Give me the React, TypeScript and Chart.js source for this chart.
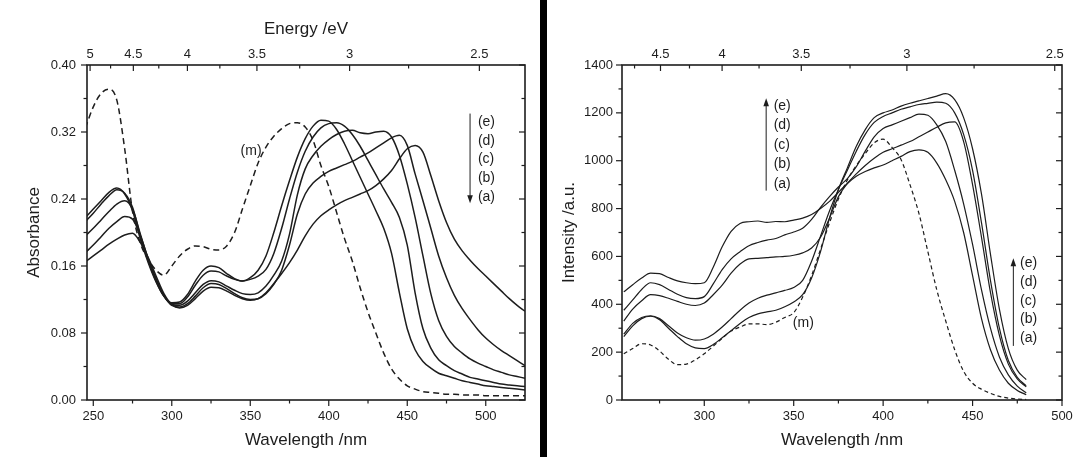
import React, { useEffect, useRef } from "react";
import { Chart, registerables } from "chart.js";

Chart.register(...registerables);

const HC_EV_NM = 1239.84;
const INK = "#1d1d1d";
const FONT_FAMILY = "'Liberation Sans', Arial, Helvetica, sans-serif";

// ---------------- Left panel: absorbance ----------------
const absWavelength = [
  245, 250, 255, 260, 265, 270, 275, 280, 285, 290, 295, 300, 305, 310, 315, 320, 325, 330, 335,
  340, 345, 350, 355, 360, 365, 370, 375, 380, 385, 390, 395, 400, 405, 410, 415, 420, 425, 430,
  435, 440, 445, 450, 455, 460, 465, 470, 475, 480, 485, 490, 495, 500, 505, 510, 515, 520, 525,
];
const absCurve1 = [
  0.218, 0.228, 0.238, 0.248, 0.253, 0.246, 0.226, 0.192, 0.164, 0.141, 0.124, 0.116, 0.117, 0.126,
  0.142, 0.155, 0.16, 0.158, 0.151, 0.145, 0.142, 0.146, 0.155, 0.172, 0.2, 0.232, 0.262, 0.29,
  0.312, 0.327, 0.334, 0.333, 0.323, 0.306, 0.286, 0.266, 0.246, 0.226, 0.205, 0.175, 0.128, 0.085,
  0.06, 0.046, 0.038, 0.032, 0.029, 0.026, 0.023, 0.021, 0.019, 0.017, 0.016, 0.015, 0.014, 0.013,
  0.012,
];
const absCurve2 = [
  0.213, 0.223, 0.234, 0.244, 0.251, 0.247, 0.23, 0.196, 0.166, 0.142, 0.124, 0.115, 0.115, 0.123,
  0.137, 0.149, 0.154, 0.153, 0.148, 0.144, 0.142, 0.144, 0.148, 0.156, 0.175, 0.205, 0.24, 0.272,
  0.297, 0.314, 0.325, 0.33, 0.331, 0.327, 0.317, 0.303, 0.286, 0.269, 0.252, 0.236, 0.218, 0.185,
  0.128, 0.085, 0.062, 0.048, 0.041, 0.035, 0.031, 0.027, 0.025, 0.023, 0.021, 0.019, 0.018, 0.017,
  0.016,
];
const absCurve3 = [
  0.196, 0.205, 0.215, 0.225, 0.234, 0.238, 0.228, 0.198, 0.168, 0.143, 0.124, 0.114, 0.113, 0.118,
  0.128, 0.138, 0.1425, 0.141, 0.136, 0.131, 0.127, 0.126, 0.128, 0.136, 0.149, 0.166, 0.198, 0.245,
  0.276, 0.292, 0.303, 0.311, 0.317, 0.321, 0.322, 0.319, 0.318, 0.32, 0.321, 0.314, 0.292, 0.258,
  0.218, 0.172, 0.127, 0.095, 0.076, 0.064, 0.056, 0.049, 0.044, 0.04, 0.036, 0.033, 0.03, 0.028,
  0.026,
];
const absCurve4 = [
  0.176, 0.185, 0.195, 0.205, 0.213, 0.219, 0.216, 0.196, 0.169, 0.145, 0.125, 0.113, 0.111, 0.115,
  0.124, 0.134, 0.139, 0.138, 0.133, 0.127, 0.122, 0.12, 0.121, 0.127, 0.138, 0.155, 0.185, 0.222,
  0.246, 0.259, 0.267, 0.273, 0.277, 0.281, 0.285, 0.29, 0.295, 0.301, 0.307, 0.313, 0.316, 0.304,
  0.27, 0.238, 0.205, 0.172, 0.146, 0.125, 0.109, 0.096, 0.084, 0.074, 0.066, 0.059, 0.053, 0.047,
  0.041,
];
const absCurve5 = [
  0.165, 0.172, 0.179, 0.186, 0.192, 0.197, 0.199, 0.188, 0.17, 0.148, 0.127, 0.114, 0.11, 0.113,
  0.121, 0.13, 0.1345, 0.134, 0.13, 0.125, 0.121, 0.119, 0.121, 0.128, 0.139, 0.151, 0.164, 0.179,
  0.196, 0.21, 0.22, 0.227, 0.233, 0.238, 0.242, 0.246, 0.25, 0.256, 0.264, 0.274, 0.288, 0.3,
  0.304, 0.296, 0.268, 0.238, 0.212, 0.192, 0.178, 0.167, 0.157, 0.148, 0.139, 0.13, 0.121, 0.113,
  0.106,
];
const absMonomer = [
  0.325, 0.35, 0.366, 0.371, 0.358, 0.3, 0.225, 0.187, 0.168, 0.155, 0.149, 0.16, 0.172, 0.18,
  0.184, 0.183, 0.18, 0.179, 0.184, 0.2, 0.228, 0.256, 0.283, 0.302, 0.315, 0.324, 0.33, 0.331,
  0.326, 0.31, 0.28, 0.255, 0.224, 0.193, 0.166, 0.134, 0.105, 0.08, 0.056, 0.037, 0.025, 0.017,
  0.013, 0.01, 0.009, 0.008, 0.007, 0.007, 0.006, 0.006, 0.006, 0.005, 0.005, 0.005, 0.005, 0.005,
  0.005,
];
const absWlTicks = [250, 300, 350, 400, 450, 500];
const absWlMinor = [275, 325, 375, 425, 475];
const absYTicks = [0, 0.08, 0.16, 0.24, 0.32, 0.4];
const absYMinor = [0.04, 0.12, 0.2, 0.28, 0.36];
const absEnergyTicks = [5, 4.5, 4, 3.5, 3, 2.5];
const absEnergyMinor = [4.75, 4.25, 3.75, 3.25, 2.75];

// ---------------- Right panel: emission intensity ----------------
const plWavelength = [
  255, 260, 265, 270, 275, 280, 285, 290, 295, 300, 305, 310, 315, 320, 325, 330, 335, 340, 345,
  350, 355, 360, 365, 370, 375, 380, 385, 390, 395, 400, 405, 410, 415, 420, 425, 430, 435, 440,
  445, 450, 455, 460, 465, 470, 475, 480,
];
const plCurveE = [
  452, 482, 510, 530, 528, 512, 498, 490, 486, 490, 555, 640, 705, 738, 745, 748, 742, 746, 745,
  752, 760, 775, 800, 830, 868, 905, 935, 955, 970, 982, 1000, 1018, 1038, 1045, 1035, 990, 920,
  830, 700, 520, 340, 210, 125, 70, 40, 22,
];
const plCurveD = [
  375, 418, 462, 490, 482, 462, 442, 428, 424, 432, 485, 545, 590, 620, 645, 658, 668, 675, 690,
  702, 718, 755, 805, 850, 890, 925, 975, 1040, 1100, 1135, 1150, 1165, 1180, 1195, 1190, 1150,
  1080, 960, 820, 650, 460, 300, 180, 105, 58, 30,
];
const plCurveC = [
  330, 380, 415, 440, 436, 425, 412, 400, 395, 405, 440, 480, 530, 568, 590, 592, 595, 598, 600,
  605, 615, 635, 680, 760, 850, 905, 945, 980, 1010, 1035, 1050, 1065, 1080, 1100, 1120, 1140,
  1158, 1162, 1080, 900, 680, 450, 270, 150, 88, 55,
];
const plCurveB = [
  275, 320, 345, 352, 340, 310, 280, 260, 250, 255, 275, 305, 340, 375, 405, 425, 438, 448, 458,
  470, 500, 580, 685, 790, 880, 960, 1040, 1110, 1160, 1185, 1200, 1215, 1225, 1235, 1240, 1245,
  1240, 1200, 1110, 960, 740, 500, 300, 165, 95, 60,
];
const plCurveA = [
  265, 310, 340, 350, 335, 300, 265, 235, 218, 215, 232, 260, 290, 320, 345, 360, 368, 375, 390,
  410, 440, 510, 620, 760, 880, 970, 1060, 1130, 1180, 1200, 1212, 1228, 1240, 1250, 1260, 1270,
  1280, 1255, 1180, 1050, 860, 610, 380, 215, 125, 85,
];
const plMonomer = [
  193, 215, 235, 230, 205, 170, 148, 150, 168, 193, 225, 258, 288, 305, 318, 318, 315, 325, 345,
  365, 430, 520, 630, 740, 840, 920, 980, 1030, 1075, 1090, 1055, 1005, 900, 780, 620, 460, 330,
  210, 120, 70, 45, 28, 15, 8, 4, 2,
];
const plWlTicks = [300, 350, 400, 450, 500];
const plWlMinor = [275, 325, 375, 425, 475];
const plYTicks = [0, 200, 400, 600, 800, 1000, 1200, 1400];
const plYMinor = [100, 300, 500, 700, 900, 1100, 1300];
const plEnergyTicks = [4.5, 4, 3.5, 3, 2.5];
const plEnergyMinor = [4.75, 4.25, 3.75, 3.25, 2.75];

const seriesLabels = ["(e)", "(d)", "(c)", "(b)", "(a)"];

type Note = { text: string; x: number; y: number; align: CanvasTextAlign };
type Arrow = { x: number; from: number; to: number };

type PanelSpec = {
  width: number;
  wavelengths: number[];
  solid: number[][];
  dashed: number[];
  xMin: number;
  xMax: number;
  yMin: number;
  yMax: number;
  wlTicks: number[];
  wlMinor: number[];
  yTicks: number[];
  yMinor: number[];
  energyTicks: number[];
  energyMinor: number[];
  yFormat: (v: number) => string;
  yTitle: string;
  topTitle: string | null;
  solidWidth: number;
  dashedWidth: number;
  dash: number[];
  notes: Note[];
  arrows: Arrow[];
  yAxisWidth: number;
  rightPad: number;
  yLabelPad: number;
  yTitlePad: number;
};

const toWl = (e: number) => HC_EV_NM / e;

function makeDecor(spec: PanelSpec) {
  return {
    id: "panelDecor",
    afterDraw(chart: any) {
      const { ctx, chartArea: a, scales } = chart;
      const sx = scales.x;
      const sy = scales.y;
      ctx.save();
      ctx.strokeStyle = INK;
      ctx.fillStyle = INK;
      const seg = (x0: number, y0: number, x1: number, y1: number) => {
        ctx.beginPath();
        ctx.moveTo(x0, y0);
        ctx.lineTo(x1, y1);
        ctx.stroke();
      };
      ctx.lineWidth = 1.2;
      const major = 6;
      const minor = 3.5;
      spec.wlTicks.forEach((v) => {
        const p = sx.getPixelForValue(v);
        seg(p, a.bottom, p, a.bottom + major);
      });
      spec.wlMinor.forEach((v) => {
        const p = sx.getPixelForValue(v);
        seg(p, a.bottom, p, a.bottom + minor);
      });
      spec.energyTicks.forEach((e) => {
        const p = sx.getPixelForValue(toWl(e));
        seg(p, a.top, p, a.top + major);
      });
      spec.energyMinor.forEach((e) => {
        const p = sx.getPixelForValue(toWl(e));
        seg(p, a.top, p, a.top + minor);
      });
      spec.yTicks.forEach((v) => {
        const p = sy.getPixelForValue(v);
        seg(a.left - major, p, a.left, p);
        seg(a.right - major, p, a.right, p);
      });
      spec.yMinor.forEach((v) => {
        const p = sy.getPixelForValue(v);
        seg(a.left - minor, p, a.left, p);
        seg(a.right - minor, p, a.right, p);
      });
      ctx.lineWidth = 1.6;
      ctx.strokeRect(a.left, a.top, a.right - a.left, a.bottom - a.top);

      ctx.font = `14px ${FONT_FAMILY}`;
      ctx.textBaseline = "middle";
      spec.notes.forEach((n) => {
        ctx.textAlign = n.align;
        ctx.fillText(n.text, sx.getPixelForValue(n.x), sy.getPixelForValue(n.y));
      });
      ctx.lineWidth = 1;
      spec.arrows.forEach((ar) => {
        const x = sx.getPixelForValue(ar.x);
        const y0 = sy.getPixelForValue(ar.from);
        const y1 = sy.getPixelForValue(ar.to);
        const dir = y1 > y0 ? 1 : -1;
        seg(x, y0, x, y1 - dir * 5);
        ctx.beginPath();
        ctx.moveTo(x, y1);
        ctx.lineTo(x - 2.8, y1 - dir * 8);
        ctx.lineTo(x + 2.8, y1 - dir * 8);
        ctx.closePath();
        ctx.fill();
      });
      ctx.restore();
    },
  };
}

function buildConfig(spec: PanelSpec): any {
  const tickFont = { family: FONT_FAMILY, size: 13 };
  const titleFont = { family: FONT_FAMILY, size: 17 };
  const datasets: any[] = spec.solid.map((ys) => ({
    data: spec.wavelengths.map((x, i) => ({ x, y: ys[i] })),
    borderColor: INK,
    borderWidth: spec.solidWidth,
    pointRadius: 0,
    fill: false,
    cubicInterpolationMode: "monotone",
  }));
  datasets.push({
    data: spec.wavelengths.map((x, i) => ({ x, y: spec.dashed[i] })),
    borderColor: INK,
    borderWidth: spec.dashedWidth,
    borderDash: spec.dash,
    pointRadius: 0,
    fill: false,
    cubicInterpolationMode: "monotone",
  });
  return {
    type: "line",
    data: { datasets },
    plugins: [makeDecor(spec)],
    options: {
      animation: false,
      responsive: false,
      maintainAspectRatio: false,
      events: [],
      layout: { padding: { left: 0, right: spec.rightPad, top: 0, bottom: 0 } },
      plugins: { legend: { display: false }, tooltip: { enabled: false } },
      scales: {
        x: {
          type: "linear",
          position: "bottom",
          min: spec.xMin,
          max: spec.xMax,
          grid: { display: false, drawTicks: false },
          border: { display: false },
          ticks: {
            color: INK,
            font: tickFont,
            padding: 9,
            autoSkip: false,
            maxRotation: 0,
            callback: (v: number) => String(v),
          },
          afterBuildTicks: (s: any) => {
            s.ticks = spec.wlTicks.map((value) => ({ value }));
          },
          afterFit: (s: any) => {
            s.height = 57;
          },
          title: {
            display: true,
            text: "Wavelength /nm",
            color: INK,
            font: titleFont,
            padding: { top: 0, bottom: 6 },
          },
        },
        x2: {
          type: "linear",
          position: "top",
          axis: "x",
          min: spec.xMin,
          max: spec.xMax,
          grid: { display: false, drawTicks: false },
          border: { display: false },
          ticks: {
            color: INK,
            font: tickFont,
            padding: 3,
            autoSkip: false,
            maxRotation: 0,
            callback: (_v: number, i: number) => String(spec.energyTicks[i]),
          },
          afterBuildTicks: (s: any) => {
            s.ticks = spec.energyTicks.map((e) => ({ value: toWl(e) }));
          },
          afterFit: (s: any) => {
            s.height = 65;
          },
          title: {
            display: spec.topTitle !== null,
            text: spec.topTitle || "",
            color: INK,
            font: titleFont,
            padding: { top: 19, bottom: 0 },
          },
        },
        y: {
          type: "linear",
          position: "left",
          min: spec.yMin,
          max: spec.yMax,
          grid: { display: false, drawTicks: false },
          border: { display: false },
          ticks: {
            color: INK,
            font: tickFont,
            padding: spec.yLabelPad,
            autoSkip: false,
            callback: (v: number) => spec.yFormat(v),
          },
          afterBuildTicks: (s: any) => {
            s.ticks = spec.yTicks.map((value) => ({ value }));
          },
          afterFit: (s: any) => {
            s.width = spec.yAxisWidth;
          },
          title: {
            display: true,
            text: spec.yTitle,
            color: INK,
            font: titleFont,
            padding: { top: spec.yTitlePad, bottom: 0 },
          },
        },
      },
    },
  };
}

const leftSpec: PanelSpec = {
  width: 540,
  wavelengths: absWavelength,
  solid: [absCurve1, absCurve2, absCurve3, absCurve4, absCurve5],
  dashed: absMonomer,
  xMin: 246,
  xMax: 525,
  yMin: 0,
  yMax: 0.4,
  wlTicks: absWlTicks,
  wlMinor: absWlMinor,
  yTicks: absYTicks,
  yMinor: absYMinor,
  energyTicks: absEnergyTicks,
  energyMinor: absEnergyMinor,
  yFormat: (v) => v.toFixed(2),
  yTitle: "Absorbance",
  topTitle: "Energy /eV",
  solidWidth: 1.5,
  dashedWidth: 1.5,
  dash: [6, 4],
  notes: [
    { text: seriesLabels[0], x: 495, y: 0.332, align: "left" },
    { text: seriesLabels[1], x: 495, y: 0.3095, align: "left" },
    { text: seriesLabels[2], x: 495, y: 0.287, align: "left" },
    { text: seriesLabels[3], x: 495, y: 0.2645, align: "left" },
    { text: seriesLabels[4], x: 495, y: 0.242, align: "left" },
    { text: "(m)", x: 350.5, y: 0.297, align: "center" },
  ],
  arrows: [{ x: 490, from: 0.342, to: 0.235 }],
  yAxisWidth: 87,
  rightPad: 15,
  yLabelPad: 11,
  yTitlePad: 24,
};

const rightSpec: PanelSpec = {
  width: 535,
  wavelengths: plWavelength,
  solid: [plCurveE, plCurveD, plCurveC, plCurveB, plCurveA],
  dashed: plMonomer,
  xMin: 254,
  xMax: 500,
  yMin: 0,
  yMax: 1400,
  wlTicks: plWlTicks,
  wlMinor: plWlMinor,
  yTicks: plYTicks,
  yMinor: plYMinor,
  energyTicks: plEnergyTicks,
  energyMinor: plEnergyMinor,
  yFormat: (v) => String(v),
  yTitle: "Intensity /a.u.",
  topTitle: null,
  solidWidth: 1.2,
  dashedWidth: 1.2,
  dash: [4, 3],
  notes: [
    { text: seriesLabels[0], x: 338.8, y: 1226, align: "left" },
    { text: seriesLabels[1], x: 338.8, y: 1149, align: "left" },
    { text: seriesLabels[2], x: 338.8, y: 1066, align: "left" },
    { text: seriesLabels[3], x: 338.8, y: 986, align: "left" },
    { text: seriesLabels[4], x: 338.8, y: 903, align: "left" },
    { text: seriesLabels[0], x: 476.5, y: 574, align: "left" },
    { text: seriesLabels[1], x: 476.5, y: 494, align: "left" },
    { text: seriesLabels[2], x: 476.5, y: 414, align: "left" },
    { text: seriesLabels[3], x: 476.5, y: 337, align: "left" },
    { text: seriesLabels[4], x: 476.5, y: 258, align: "left" },
    { text: "(m)", x: 355.4, y: 320, align: "center" },
  ],
  arrows: [
    { x: 334.6, from: 875, to: 1261 },
    { x: 472.8, from: 226, to: 592 },
  ],
  yAxisWidth: 75,
  rightPad: 20,
  yLabelPad: 9,
  yTitlePad: 12,
};

function Panel({ spec, left }: { spec: PanelSpec; left: number }) {
  const ref = useRef<HTMLCanvasElement | null>(null);
  useEffect(() => {
    if (!ref.current) return;
    const chart = new Chart(ref.current, buildConfig(spec));
    return () => chart.destroy();
  }, [spec]);
  return (
    <canvas
      ref={ref}
      width={spec.width}
      height={457}
      style={{ position: "absolute", left, top: 0, width: spec.width, height: 457 }}
    />
  );
}

export default function App() {
  return (
    <div
      style={{
        position: "absolute",
        left: 0,
        top: 0,
        width: 1082,
        height: 457,
        background: "#ffffff",
        overflow: "hidden",
      }}
    >
      <Panel spec={leftSpec} left={0} />
      <div
        style={{ position: "absolute", left: 540, top: 0, width: 7, height: 457, background: "#000" }}
      />
      <Panel spec={rightSpec} left={547} />
    </div>
  );
}
